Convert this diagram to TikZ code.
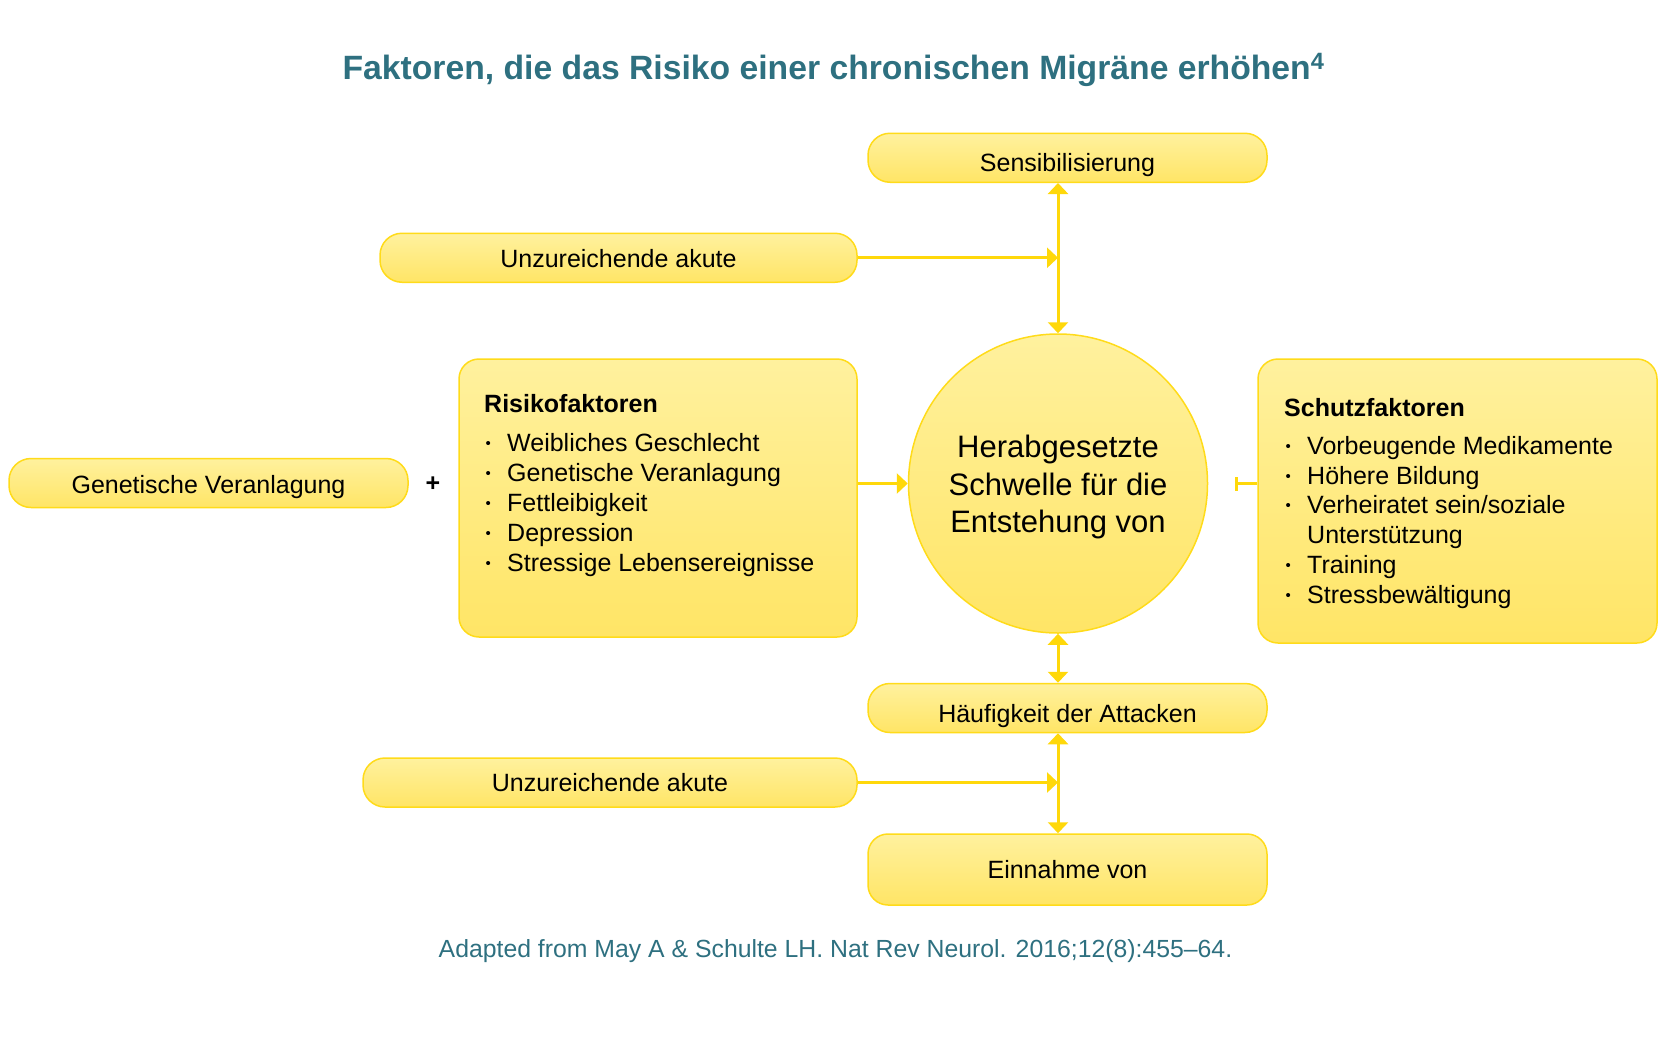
\documentclass[tikz,border=0pt]{standalone}
\usepackage{fontspec}
\setmainfont{Liberation Sans}
\usetikzlibrary{arrows.meta}
\definecolor{ytop}{HTML}{FFF19E}
\definecolor{ybot}{HTML}{FFE566}
\definecolor{yline}{HTML}{FFDB1A}
\definecolor{yarrow}{HTML}{FFD80A}
\definecolor{titleteal}{HTML}{2E7080}
\newcommand{\itembullet}{\makebox[23pt][l]{\hspace{1.5pt}\raisebox{2.5pt}{\fontsize{15}{15}\selectfont •}}}
\begin{document}
\begin{tikzpicture}[x=1pt,y=-1pt,
  box/.style={draw=yline, line width=1.5pt, top color=ytop, bottom color=ybot, inner sep=0pt, font=\fontsize{25}{30}\selectfont},
  pill/.style={box, rounded corners=22pt, minimum height=49pt},
  conn/.style={draw=yarrow, line width=3pt, -{Triangle[width=20pt,length=11pt]}},
  both/.style={draw=yarrow, line width=3pt, {Triangle[width=20pt,length=11pt]}-{Triangle[width=20pt,length=11pt]}},
  teeline/.style={draw=yarrow, line width=3pt, -{Bar[width=14pt]}},
  item/.style={anchor=base west, inner sep=0pt, font=\fontsize{25}{30}\selectfont},
  head/.style={anchor=base west, inner sep=0pt, font=\bfseries\fontsize{25}{30}\selectfont},
]
\useasboundingbox (0,0) rectangle (1667,1047);

% title and source
\node[anchor=base, inner sep=0pt, text=titleteal, font=\bfseries\fontsize{33.7}{40}\selectfont] (title) at (833.5,79) {Faktoren, die das Risiko einer chronischen Migräne erhöhen\textsuperscript{4}};
\node[anchor=base, inner sep=0pt, text=titleteal, font=\fontsize{24.8}{30}\selectfont] (cite) at (835.5,957) {Adapted from May A \& Schulte LH. Nat Rev Neurol. 2016;12(8):455–64.};

% boxes
\node[pill, minimum width=399pt, text height=28pt, text depth=0pt] (sens) at (1067.5,157.75) {Sensibilisierung};
\node[pill, minimum width=477pt, text height=20pt, text depth=0pt] (acute1) at (618.5,257.75) {Unzureichende akute};
\node[pill, minimum width=399pt, text height=20pt, text depth=0pt] (gen) at (208.5,483) {Genetische Veranlagung};
\node[inner sep=0pt, font=\bfseries\fontsize{25}{30}\selectfont] (plus) at (433,484) {+};
\node[box, rounded corners=20pt, minimum width=398pt, minimum height=278pt] (risk) at (658,498) {};
\node[box, rounded corners=20pt, minimum width=399pt, minimum height=284pt] (schutz) at (1457.5,501) {};
\node[circle, draw=yline, line width=1.5pt, top color=ytop, bottom color=ybot, minimum size=299pt, inner sep=0pt, align=center, font=\fontsize{31}{37.5}\selectfont] (thr) at (1058,483.5) {\rule{0pt}{30pt}Herabgesetzte\\Schwelle für die\\Entstehung von};
\node[pill, minimum width=399pt, text height=28pt, text depth=0pt] (freq) at (1067.5,708) {Häufigkeit der Attacken};
\node[pill, minimum width=494pt, text height=18pt, text depth=0pt] (acute2) at (610,782.5) {Unzureichende akute};
\node[box, rounded corners=20pt, minimum width=399pt, minimum height=71pt, text height=17pt, text depth=0pt] (intake) at (1067.5,869.5) {Einnahme von};

% Risikofaktoren text
\node[head] (rhead) at (484,412) {Risikofaktoren};
\node[item] (r1) at (484,451) {\itembullet Weibliches Geschlecht};
\node[item] (r2) at (484,481) {\itembullet Genetische Veranlagung};
\node[item] (r3) at (484,511) {\itembullet Fettleibigkeit};
\node[item] (r4) at (484,541) {\itembullet Depression};
\node[item] (r5) at (484,571) {\itembullet Stressige Lebensereignisse};

% Schutzfaktoren text
\node[head] (shead) at (1284,416) {Schutzfaktoren};
\node[item] (s1) at (1284,454) {\itembullet Vorbeugende Medikamente};
\node[item] (s2) at (1284,484) {\itembullet Höhere Bildung};
\node[item] (s3) at (1284,513) {\itembullet Verheiratet sein/soziale};
\node[item] (s4) at (1284,543) {\hspace*{23pt}Unterstützung};
\node[item] (s5) at (1284,573) {\itembullet Training};
\node[item] (s6) at (1284,603) {\itembullet Stressbewältigung};

% connectors
\coordinate (j1) at (thr.north |- acute1.east);
\coordinate (j2) at (thr.south |- acute2.east);
\coordinate (tee) at (1235,483.5);
\draw[both] (thr.north) -- (thr.north |- sens.south);
\draw[conn] (acute1.east) -- (j1);
\draw[conn] (risk.east |- thr.west) -- (thr.west);
\draw[teeline] (schutz.west |- tee) -- (tee);
\draw[both] (thr.south) -- (thr.south |- freq.north);
\draw[both] (thr.south |- freq.south) -- (thr.south |- intake.north);
\draw[conn] (acute2.east) -- (j2);
\end{tikzpicture}
\end{document}
